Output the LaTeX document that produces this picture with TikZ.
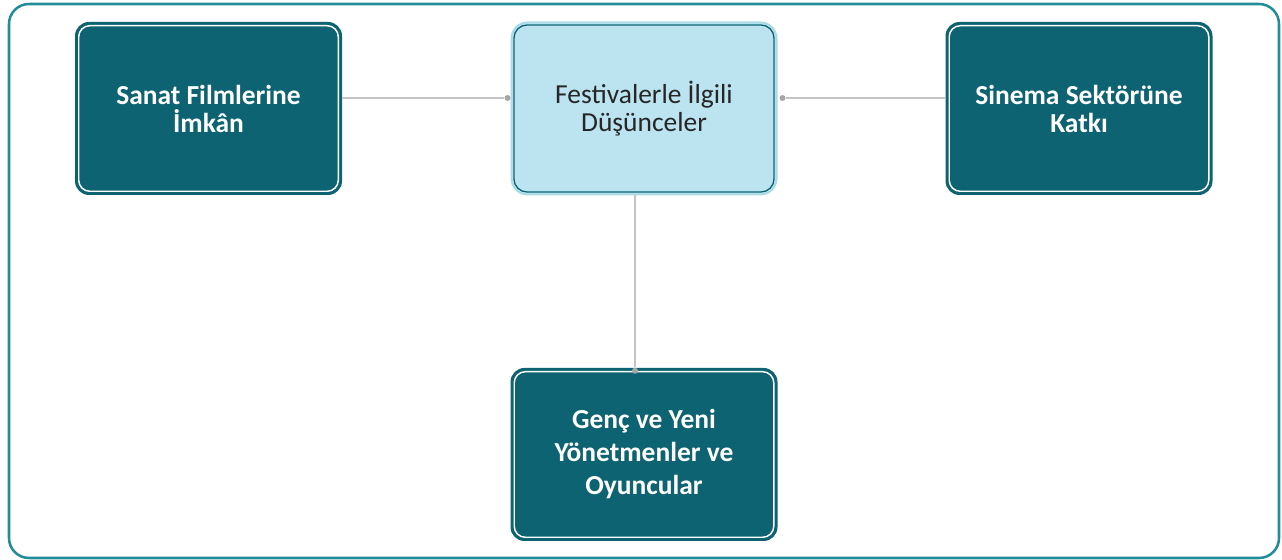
\documentclass[tikz,border=0pt]{standalone}
\usepackage{fontspec}
\setmainfont{Carlito}
\definecolor{frameteal}{RGB}{34,141,154}
\definecolor{darkteal}{RGB}{13,99,114}
\definecolor{lightblue}{RGB}{188,228,240}
\definecolor{glowblue}{RGB}{170,219,232}
\definecolor{linegray}{RGB}{196,196,196}
\definecolor{dotgray}{RGB}{166,166,166}
\definecolor{textdark}{RGB}{38,38,38}
\begin{document}
\begin{tikzpicture}[x=0.75pt,y=0.75pt,
  darkbox/.style={fill=darkteal, rounded corners=14*0.75pt, minimum width=267*0.75pt, minimum height=173*0.75pt,
    text=white, font=\fontsize{20.6pt}{21pt}\selectfont\bfseries, align=center, inner sep=0pt},
  lightbox/.style={fill=lightblue, draw=glowblue, line width=1.5pt, rounded corners=16*0.75pt, minimum width=265*0.75pt, minimum height=172*0.75pt,
    text=textdark, font=\fontsize{20.6pt}{21pt}\selectfont, align=center, inner sep=0pt},
  innerwhite/.style={draw=white, line width=1.1pt, rounded corners=11*0.75pt},
  innerdark/.style={draw=darkteal, line width=1pt, rounded corners=13*0.75pt},
  conn/.style={draw=linegray, line width=1.1pt},
  dot/.style={circle, fill=dotgray, inner sep=0pt, minimum size=6*0.75pt}
]
\useasboundingbox (0,0) rectangle (1282,560);
\draw[frameteal, line width=1.9pt, rounded corners=20*0.75pt] (9,2) rectangle (1279,556);

\node[darkbox] (l) at (208.5,451.5) {Sanat Filmlerine\\İmkân};
\node[lightbox] (c) at (644,451.5) {Festivalerle İlgili\\Düşünceler};
\node[darkbox] (r) at (1079,451.5) {Sinema Sektörüne\\Katkı};
\node[darkbox, font=\fontsize{20.6pt}{24.75pt}\selectfont\bfseries] (b) at (644,105.5) {Genç ve Yeni\\Yönetmenler ve\\Oyuncular};

\foreach \n in {l,r,b}{
  \draw[innerwhite] ([shift={(4,4)}]\n.south west) rectangle ([shift={(-4,-4)}]\n.north east);
}
\draw[innerdark] ([shift={(3.5,3.5)}]c.south west) rectangle ([shift={(-3.5,-3.5)}]c.north east);

\node[dot] (dl) at ([shift={(-3,10.5)}]c.west) {};
\node[dot] (dr) at ([shift={(5,10.5)}]c.east) {};
\node[dot] (db) at ([shift={(-9,-3)}]b.north) {};

\draw[conn] ([shift={(0,10.5)}]l.east) -- (dl);
\draw[conn] ([shift={(0,10.5)}]r.west) -- (dr);
\draw[conn] ([shift={(-9,0)}]c.south) -- (db);
\end{tikzpicture}
\end{document}
